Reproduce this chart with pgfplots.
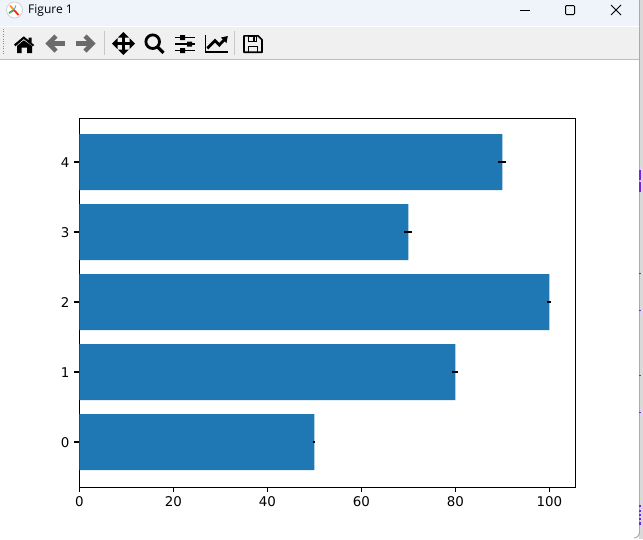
\documentclass[border=0pt]{standalone}
\usepackage{pgfplots}
\pgfplotsset{compat=1.18}
\usepackage{fontspec}
\setmainfont{DejaVu Sans}
\newfontfamily\uifont{Open Sans}
\definecolor{barblue}{HTML}{1F77B4}
\definecolor{titlebar}{HTML}{EFF3FA}
\definecolor{toolbar}{HTML}{F0F0F0}
\definecolor{tbline}{HTML}{BEBEBE}
\definecolor{edgeL}{HTML}{D9D9D9}
\definecolor{edgeD}{HTML}{ABABAB}
\definecolor{iconGrey}{HTML}{6B6B6B}
\definecolor{specks}{HTML}{7A22E0}
\begin{document}
\begin{tikzpicture}[x=1pt,y=-1pt,line cap=butt]
\path[use as bounding box] (0,0) rectangle (643,539);
\fill[white] (0,0) rectangle (643,539);
% window chrome
\fill[titlebar] (0,0) rectangle (639,26);
\fill[white] (0,26) rectangle (639,27);
\fill[toolbar] (0,27) rectangle (639,59);
\fill[tbline] (0,59) rectangle (639,60);
\fill[edgeL] (639,60) rectangle (643,539);
\fill[edgeD] (639,60) rectangle (640,532);
\draw[edgeD,line width=1pt] (639.5,532) to[out=270,in=0] (634,538);
\fill[edgeD] (639,0) rectangle (639.8,60);
\fill[edgeL] (640,0) rectangle (643,60);
% purple specks
\foreach \a/\b in {170/180,182/192,273/274,310/311,375/376,412/413,505/507,510/512,514/516,518/520,522/525}
  \fill[specks] (639,\a) rectangle (641,\b);
% logo
\draw[black!18,fill=white,line width=.8pt] (14.5,10) circle (8);
\draw[orange!85!white,line width=1.8pt] (14,10) -- (10,5.5);
\draw[green!50!black!70,line width=1.8pt] (14,10) -- (9,13);
\draw[red!70!orange,line width=1.8pt] (14,10) -- (18.5,15);
\draw[cyan!60!blue!60,line width=1pt] (14,10) -- (16,5.5);
\node[anchor=west,inner sep=0pt,font=\uifont\fontsize{12}{14}\selectfont,text=black] at (28,11) {Figure 1};
% window buttons
\draw[black,line width=1pt] (520,10.3) -- (530,10.3);
\draw[black,line width=1pt,rounded corners=1pt] (565.5,5.5) rectangle (574.5,14.5);
\draw[black,line width=.9pt] (611,5) -- (621,15) (621,5) -- (611,15);
% toolbar grip and separators
\draw[black!45,line width=1.2pt,dash pattern=on 1pt off 1.4pt] (3.5,29) -- (3.5,55);
\fill[black!22] (104,31) rectangle (105,55);
\fill[black!22] (234,31) rectangle (235,55);
% home
\fill[black] (14,44.5) -- (23.8,36.3) -- (28.5,40.3) -- (28.5,37.5) -- (31.5,37.5) -- (31.5,42.8) -- (34.3,45) -- (32.8,46.3) -- (23.8,39) -- (15.5,46.3) -- cycle;
\fill[black] (17,46) -- (23.8,40.3) -- (32,46) -- (32,53) -- (27,53) -- (27,47.5) -- (21.5,47.5) -- (21.5,53) -- (17,53) -- cycle;
% back / forward
\draw[iconGrey,line width=4.4pt,line join=miter] (65,43.5) -- (49,43.5);
\draw[iconGrey,line width=4.4pt,line join=miter] (56,36) -- (48.5,43.5) -- (56,51);
\draw[iconGrey,line width=4.4pt,line join=miter] (76,43.5) -- (92,43.5);
\draw[iconGrey,line width=4.4pt,line join=miter] (85,36) -- (92.5,43.5) -- (85,51);
% move
\draw[black,line width=2.6pt] (115,43.5) -- (132,43.5) (123.4,35) -- (123.4,52);
\fill[black] (112,43.5) -- (117.5,38) -- (117.5,49) -- cycle;
\fill[black] (135,43.5) -- (129.5,38) -- (129.5,49) -- cycle;
\fill[black] (123.4,32) -- (118,37.5) -- (129,37.5) -- cycle;
\fill[black] (123.4,55) -- (118,49.5) -- (129,49.5) -- cycle;
% zoom
\draw[black,line width=2.8pt] (152.7,41.7) circle (6.8);
\draw[black,line width=3.2pt] (157.5,46.8) -- (163.5,52.8);
% sliders
\draw[black,line width=1.3pt] (175,37.3) -- (195,37.3) (175,44) -- (195,44) (175,50.7) -- (195,50.7);
\fill[black] (180,35) rectangle (185,40) (187,41.5) rectangle (192,46.5) (180,48.2) rectangle (185,53.2);
% chart
\draw[black,line width=1.8pt] (205.5,35) -- (205.5,52) -- (228.3,52);
\draw[black,line width=2.8pt] (207.3,48.3) -- (215,40.7) -- (219.3,45) -- (225,39);
\fill[black] (227.8,36) -- (221,37.5) -- (226.5,43) -- cycle;
% save
\draw[black,line width=1.6pt,line join=round] (244,35.8) -- (258,35.8) -- (262,39.8) -- (262,52.2) -- (244,52.2) -- cycle;
\draw[black,line width=1.4pt] (248.5,36) rectangle (256.5,41.5) (248.5,52) -- (248.5,46.5) -- (257.5,46.5) -- (257.5,52);
\fill[black] (253,37) rectangle (255,40.5);
% the chart
\begin{axis}[
  at={(79.3pt,-487.3pt)}, anchor=south west,
  scale only axis, width=496pt, height=368.6pt,
  y dir=normal,
  xmin=0, xmax=105.53, ymin=-0.647, ymax=4.619,
  xtick={0,20,40,60,80,100}, ytick={0,1,2,3,4},
  tick align=outside, tick style={black,line width=1.1pt},
  major tick length=4.9pt,
  xtick pos=bottom, ytick pos=left,
  axis line style={black,line width=1.1pt},
  tick label style={font=\fontsize{13.4}{16}\selectfont, /pgf/number format/assume math mode=true},
  xticklabel style={yshift=-1.2pt},
  yticklabel style={xshift=-1.5pt,yshift=-0.8pt},
]
\addplot[xbar, bar width=56pt, fill=barblue, draw=none] coordinates {
    (50,0) (80,1) (100,2) (70,3) (90,4)
  };
% error bars, one horizontal stroke per bar
\addplot[black, line width=2pt, forget plot] coordinates {(49.75,0) (50.25,0)};
\addplot[black, line width=2pt, forget plot] coordinates {(79.35,1) (80.65,1)};
\addplot[black, line width=2pt, forget plot] coordinates {(99.6,2) (100.4,2)};
\addplot[black, line width=2pt, forget plot] coordinates {(69.15,3) (70.85,3)};
\addplot[black, line width=2pt, forget plot] coordinates {(89.15,4) (90.85,4)};
\end{axis}
\end{tikzpicture}
\end{document}
